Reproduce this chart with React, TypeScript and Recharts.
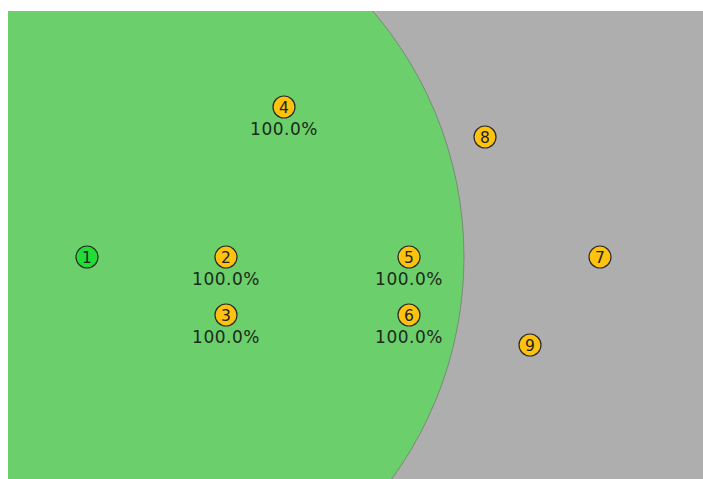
import React from 'react';
import { ScatterChart, Scatter, XAxis, YAxis, ReferenceArea, ReferenceDot } from 'recharts';

// node positions in plot units (1 unit = 1px), y measured from the top
const nodeIds = [1, 2, 3, 4, 5, 6, 7, 8, 9];
const nodeX = [79, 218, 218, 276, 401, 401, 592, 477, 522];
const nodeY = [246, 246, 304, 96, 246, 304, 246, 126, 334];
const nodeLabels = ['', '100.0%', '100.0%', '100.0%', '100.0%', '100.0%', '', '', ''];
const nodeKinds = ['source', 'node', 'node', 'node', 'node', 'node', 'node', 'node', 'node'];

// coverage zone around node 1
const zoneCenter = [79, 246];
const zoneRadius = 377;

const W = 695;
const H = 468;

const nodes = nodeIds.map((id, i) => ({
	id,
	x: nodeX[i],
	y: nodeY[i],
	label: nodeLabels[i],
	kind: nodeKinds[i],
}));

const NodeShape = (props: any) => {
	const { cx, cy, payload } = props;
	const fill = payload.kind === 'source' ? '#22dd33' : '#ffc20e';
	return (
		<g>
			<circle cx={cx} cy={cy} r={11} fill={fill} stroke="#2a2a2a" strokeWidth={1.2} />
			<text x={cx} y={cy + 5.5} textAnchor="middle" fontSize={15.5} fontFamily="DejaVu Sans" fill="#222">
				{payload.id}
			</text>
			{payload.label ? (
				<text x={cx} y={cy + 28} textAnchor="middle" fontSize={17} letterSpacing={0.5} fontFamily="DejaVu Sans" fill="#1c2a1c">
					{payload.label}
				</text>
			) : null}
		</g>
	);
};

export default function App() {
	return (
		<div style={{ position: 'absolute', left: 8, top: 11, width: W, height: H }}>
			<ScatterChart width={W} height={H} margin={{ top: 0, right: 0, bottom: 0, left: 0 }}>
				<XAxis type="number" dataKey="x" domain={[0, W]} hide />
				<YAxis type="number" dataKey="y" domain={[0, H]} reversed hide />
				<ReferenceArea x1={0} x2={W} y1={0} y2={H} fill="#aeaeae" fillOpacity={1} stroke="none" />
				<ReferenceDot
					x={zoneCenter[0]}
					y={zoneCenter[1]}
					r={zoneRadius}
					fill="#6bcf6b"
					stroke="#7a8a7a"
					strokeWidth={1}
				/>
				<Scatter data={nodes} shape={NodeShape} isAnimationActive={false} />
			</ScatterChart>
		</div>
	);
}
